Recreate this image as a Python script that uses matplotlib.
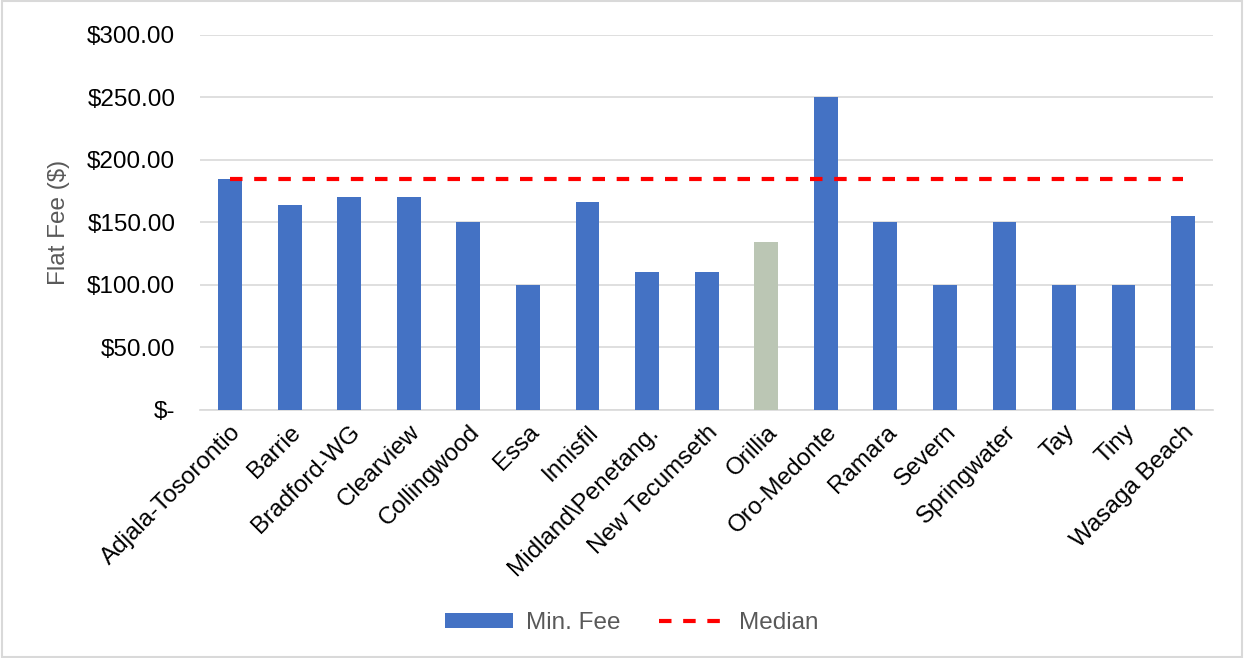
import matplotlib.pyplot as plt
from matplotlib.patches import Rectangle
from matplotlib.ticker import FuncFormatter

plt.rcParams['font.family'] = ['Liberation Sans', 'DejaVu Sans']

towns = ['Adjala-Tosorontio', 'Barrie', 'Bradford-WG', 'Clearview', 'Collingwood',
         'Essa', 'Innisfil', 'Midland\\Penetang.', 'New Tecumseth', 'Orillia',
         'Oro-Medonte', 'Ramara', 'Severn', 'Springwater', 'Tay', 'Tiny', 'Wasaga Beach']
min_fee = [185, 164, 170, 170, 150, 100, 166, 110, 110, 134, 250, 150, 100, 150, 100, 100, 155]
median_fee = 185
highlight = 'Orillia'

blue = '#4472C4'
sage = '#BBC6B4'
colors = [sage if t == highlight else blue for t in towns]
fs = 17.5

fig = plt.figure(figsize=(12.44, 6.58), dpi=100)
ax = fig.add_axes([0.161, 0.377, 0.814, 0.570])

x = range(len(towns))
bars = ax.bar(x, min_fee, width=0.4, color=colors, label='Min. Fee', zorder=3)
line, = ax.plot([0, len(towns) - 1], [median_fee, median_fee], color='red', lw=3,
                dashes=(3, 2.8), label='Median', zorder=4)

ax.set_ylim(0, 300)
ax.set_xlim(-0.5, len(towns) - 0.5)
ax.set_yticks(range(0, 301, 50))
ax.yaxis.set_major_formatter(FuncFormatter(lambda v, p: '$-' if v == 0 else f'${v:,.2f}'))
ax.grid(axis='y', color='#D9D9D9', lw=1.2, zorder=0)
for s in ['top', 'right', 'left']:
    ax.spines[s].set_visible(False)
ax.spines['bottom'].set_color('#D9D9D9')
ax.spines['bottom'].set_linewidth(1.2)
ax.tick_params(axis='both', length=0, labelsize=fs, colors='black')
ax.tick_params(axis='y', pad=18)
ax.set_xticks(list(x))
ax.set_xticklabels(towns, rotation=45, ha='right', rotation_mode='anchor')
ax.tick_params(axis='x', pad=8)
ax.set_ylabel('Flat Fee ($)', fontsize=fs, color='#595959', labelpad=12)

fig.legend([bars, line], ['Min. Fee', 'Median'], loc='center',
           bbox_to_anchor=(0.508, 0.053), ncol=2, frameon=False,
           fontsize=fs, labelcolor='#595959', handlelength=2.8, handleheight=0.55,
           columnspacing=1.6, handletextpad=0.5)

fig.patches.append(Rectangle((0.002, 0.002), 0.996, 0.996, transform=fig.transFigure,
                             fill=False, edgecolor='#D9D9D9', lw=1.5))

fig.savefig('out.png', dpi=100)
